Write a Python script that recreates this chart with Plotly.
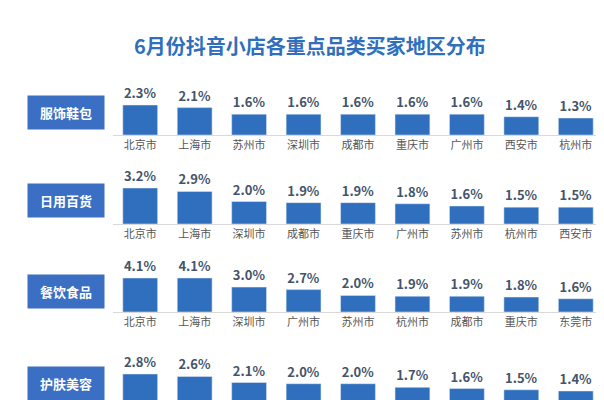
import plotly.graph_objects as go
from plotly.subplots import make_subplots

categories = ["服饰鞋包", "日用百货", "餐饮食品", "护肤美容"]
cities_1 = ["北京市", "上海市", "苏州市", "深圳市", "成都市", "重庆市", "广州市", "西安市", "杭州市"]
values_1 = [2.3, 2.1, 1.6, 1.6, 1.6, 1.6, 1.6, 1.4, 1.3]
cities_2 = ["北京市", "上海市", "深圳市", "成都市", "重庆市", "广州市", "苏州市", "杭州市", "西安市"]
values_2 = [3.2, 2.9, 2.0, 1.9, 1.9, 1.8, 1.6, 1.5, 1.5]
cities_3 = ["北京市", "上海市", "深圳市", "广州市", "苏州市", "杭州市", "成都市", "重庆市", "东莞市"]
values_3 = [4.1, 4.1, 3.0, 2.7, 2.0, 1.9, 1.9, 1.8, 1.6]
cities_4 = ["北京市", "上海市", "深圳市", "广州市", "苏州市", "杭州市", "成都市", "重庆市", "东莞市"]
values_4 = [2.8, 2.6, 2.1, 2.0, 2.0, 1.7, 1.6, 1.5, 1.4]

rows = [(cities_1, values_1), (cities_2, values_2), (cities_3, values_3), (cities_4, values_4)]
# (baseline px, top px, max bar px, label center px)
geom = [(127, 79, 30, 105), (216, 160, 36, 193), (304, 252, 34, 283), (400, 346, 34, 375)]
H = 400.0
BLUE = "#2f6fbd"

fig = make_subplots(rows=4, cols=1)
for i, ((cities, vals), (base, top, bar, mid)) in enumerate(zip(rows, geom), start=1):
    fig.add_trace(go.Bar(
        x=cities, y=vals, marker_color=BLUE, width=0.64,
        text=[f"<b>{v:.1f}%</b>" for v in vals], textposition="outside",
        textfont=dict(color="#44546a", size=13, family="Noto Sans CJK SC"),
        cliponaxis=False, showlegend=False), row=i, col=1)
    ax = "" if i == 1 else str(i)
    fig.layout["xaxis" + ax].update(domain=[105 / 604, 595 / 604], showline=True,
                                    linecolor="#d9d9d9", ticks="", showticklabels=(i < 4),
                                    tickfont=dict(size=11, color="#555"))
    fig.layout["yaxis" + ax].update(domain=[1 - base / H, 1 - top / H], visible=False,
                                    range=[0, max(vals) * (base - top) / bar])
    fig.add_annotation(xref="paper", yref="paper", x=58 / 604, y=1 - mid / H,
                       xanchor="center", yanchor="middle",
                       text=f"<b>{categories[i - 1]}</b>", showarrow=False,
                       font=dict(color="white", size=13, family="Noto Sans CJK SC"),
                       bgcolor="#3a6fc4", borderpad=7, width=62)

fig.add_annotation(xref="paper", yref="paper", x=0.5, y=1 - 38 / H,
                   xanchor="center", yanchor="middle",
                   text="<b>6月份抖音小店各重点品类买家地区分布</b>", showarrow=False,
                   font=dict(color=BLUE, size=20, family="Noto Sans CJK SC"))
fig.update_layout(width=604, height=400, margin=dict(l=0, r=0, t=0, b=0),
                  plot_bgcolor="white", paper_bgcolor="white",
                  font=dict(family="Noto Sans CJK SC"))
fig.write_html("out.html")
